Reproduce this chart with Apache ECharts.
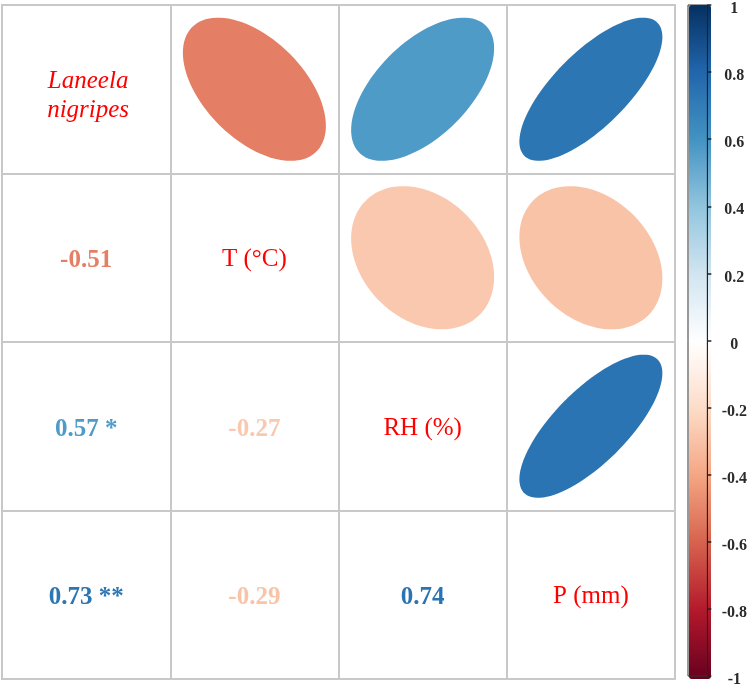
<!DOCTYPE html>
<html>
<head>
<meta charset="utf-8">
<title>corrplot</title>
<script src="https://cdn.jsdelivr.net/npm/echarts@6/dist/echarts.min.js"></script>
<style>
  html, body { margin: 0; padding: 0; background: #fff; }
  #main { width: 750px; height: 688px; }
</style>
</head>
<body>
<div id="main"></div>
<script>
// variables on the diagonal
const variables = ['Laneela nigripes', 'T (°C)', 'RH (%)', 'P (mm)'];
// upper triangle pairs (row, col) and their correlations
const rowIndex = [0, 0, 0, 1, 1, 2];
const colIndex = [1, 2, 3, 2, 3, 3];
const corValues = [-0.51, 0.57, 0.73, -0.27, -0.29, 0.74];
const stars = ['', '*', '**', '', '', ''];
// RdBu palette from -1 to 1
const rdBu = ['#67001F', '#B2182B', '#D6604D', '#F4A582', '#FDDBC7', '#FFFFFF',
  '#D1E5F0', '#92C5DE', '#4393C3', '#2166AC', '#053061'];

const ellipseData = corValues.map((r, k) => [colIndex[k], rowIndex[k], r]);
const numberData = corValues.map((r, k) => [rowIndex[k], colIndex[k], r]);
const diagData = variables.map((v, i) => [i, i]);

const serif = '"Liberation Serif", "DejaVu Serif", serif';

const renderEllipse = (params, api) => {
  const c = api.coord([api.value(0), api.value(1)]);
  const s = api.size([1, 1]);
  const d = Math.acos(api.value(2));
  const pts = [];
  for (let i = 0; i < 100; i++) {
    const k = 2 * Math.PI * i / 99;
    // corrplot ellipse, scaled 0.85 of half cell
    pts.push([
      c[0] + Math.cos(k + d / 2) * 0.425 * s[0],
      c[1] - Math.cos(k - d / 2) * 0.425 * s[1]
    ]);
  }
  return {
    type: 'polygon',
    shape: { points: pts },
    style: { fill: api.visual('color') }
  };
};

const renderNumber = (params, api) => {
  const c = api.coord([api.value(0), api.value(1)]);
  const k = params.dataIndex;
  const txt = api.value(2).toFixed(2) + (stars[k] ? ' ' + stars[k] : '');
  return {
    type: 'text',
    style: {
      x: c[0], y: c[1] + 3,
      text: txt,
      align: 'center',
      verticalAlign: 'middle',
      fill: api.visual('color'),
      font: 'bold 25px ' + serif
    }
  };
};

const renderDiag = (params, api) => {
  const c = api.coord([api.value(0), api.value(1)]);
  const i = params.dataIndex;
  const name = variables[i];
  const italic = i === 0;
  return {
    type: 'text',
    style: {
      x: c[0] + (italic ? 2 : 0), y: c[1] + (italic ? 7 : 2),
      text: italic ? name.replace(' ', '\n') : name,
      align: 'center',
      verticalAlign: 'middle',
      lineHeight: 29,
      fill: '#ff0000',
      font: (italic ? 'italic ' : '') + '25px ' + serif
    }
  };
};

const myChart = echarts.init(document.getElementById('main'));

const option = {
  backgroundColor: '#fff',
  animation: false,
  grid: [
    { left: 2, top: 5, width: 673, height: 674, show: true, borderColor: '#c8c8c8', borderWidth: 2 },
    { left: 688, top: 5, width: 23, height: 674, show: true, borderColor: '#333', borderWidth: 1, z: 10 }
  ],
  xAxis: [
    {
      type: 'category', gridIndex: 0, data: variables,
      axisLine: { show: false }, axisTick: { show: false }, axisLabel: { show: false },
      splitLine: { show: true, interval: 0, lineStyle: { color: '#c8c8c8', width: 2 } }
    },
    { type: 'value', gridIndex: 1, show: false, min: 0, max: 1 }
  ],
  yAxis: [
    {
      type: 'category', gridIndex: 0, data: variables, inverse: true,
      axisLine: { show: false }, axisTick: { show: false }, axisLabel: { show: false },
      splitLine: { show: true, interval: 0, lineStyle: { color: '#c8c8c8', width: 2 } }
    },
    {
      type: 'value', gridIndex: 1, position: 'right', min: -1, max: 1, interval: 0.2,
      axisLine: { show: true, onZero: false, lineStyle: { color: '#222' } },
      axisTick: { show: true, length: 4, lineStyle: { color: '#222', width: 1.5 } },
      splitLine: { show: false },
      z: 10,
      axisLabel: {
        margin: 27, align: 'center', verticalAlign: 'top', lineHeight: 8,
        color: '#2b2b2b', fontFamily: serif, fontWeight: 'bold', fontSize: 16,
        formatter: v => String(Math.round(v * 10) / 10)
      }
    }
  ],
  visualMap: {
    type: 'continuous',
    min: -1, max: 1,
    dimension: 2,
    seriesIndex: [0, 1],
    calculable: false,
    hoverLink: false,
    left: 689, top: 5,
    padding: 0,
    itemWidth: 22, itemHeight: 674,
    text: null,
    inRange: { color: rdBu }
  },
  series: [
    {
      type: 'custom', name: 'ellipse', xAxisIndex: 0, yAxisIndex: 0,
      renderItem: renderEllipse, data: ellipseData, encode: { x: 0, y: 1 }
    },
    {
      type: 'custom', name: 'number', xAxisIndex: 0, yAxisIndex: 0,
      renderItem: renderNumber, data: numberData, encode: { x: 0, y: 1 }
    },
    {
      type: 'custom', name: 'diag', xAxisIndex: 0, yAxisIndex: 0,
      renderItem: renderDiag, data: diagData, encode: { x: 0, y: 1 }
    }
  ]
};

myChart.setOption(option);
</script>
</body>
</html>
